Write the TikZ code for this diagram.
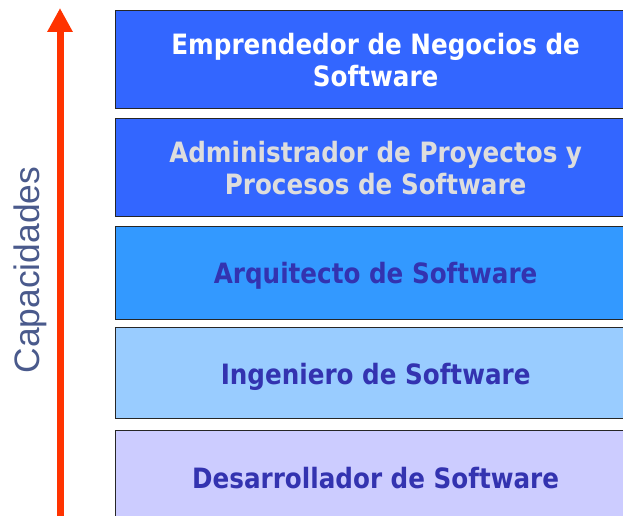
\documentclass[tikz,border=0pt]{standalone}
\usepackage{fontspec}
\setmainfont{Liberation Sans}
\newfontfamily\boxfont{DejaVu Sans}[FakeStretch=0.88]
\usetikzlibrary{arrows.meta}
\definecolor{bluedark}{HTML}{3366FF}
\definecolor{bluemid}{HTML}{3399FF}
\definecolor{bluelight}{HTML}{99CCFF}
\definecolor{lavender}{HTML}{CCCCFF}
\definecolor{txtblue}{HTML}{3333B0}
\definecolor{txtgrey}{HTML}{DDDDDD}
\definecolor{arrowred}{HTML}{FF3300}
\definecolor{labelblue}{HTML}{4A5A8C}
\tikzset{
  level/.style={draw=black!85, line width=1.3pt, minimum width=520pt, anchor=north west,
    align=center, inner sep=0pt, font=\boxfont\bfseries\fontsize{28}{32}\selectfont},
}
\begin{document}
\begin{tikzpicture}[x=1pt,y=-1pt]
\useasboundingbox (0,0) rectangle (623,516);
\clip (0,0) rectangle (623,516);
\node[level, fill=bluedark, text=white, minimum height=98pt] (emp) at (115,10) {Emprendedor de Negocios de\\Software};
\node[level, fill=bluedark, text=txtgrey, minimum height=98pt] (adm) at (115,118) {Administrador de Proyectos y\\Procesos de Software};
\node[level, fill=bluemid, text=txtblue, minimum height=93pt] (arq) at (115,226) {\raisebox{-3pt}[\height][\depth]{Arquitecto de Software}};
\node[level, fill=bluelight, text=txtblue, minimum height=91pt] (ing) at (115,327) {\raisebox{-3.5pt}[\height][\depth]{Ingeniero de Software}};
\node[level, fill=lavender, text=txtblue, minimum height=94pt] (des) at (115,430) {Desarrollador de Software};
\coordinate (abot) at (60,520);
\coordinate (atop) at (60,8);
\draw[arrowred, line width=7pt, -{Triangle[width=24pt,length=24pt]}] (abot) -- (atop);
\node[rotate=90, text=labelblue, font=\fontsize{35.4}{38}\selectfont] (cap) at (30,270) {Capacidades};
\end{tikzpicture}
\end{document}
